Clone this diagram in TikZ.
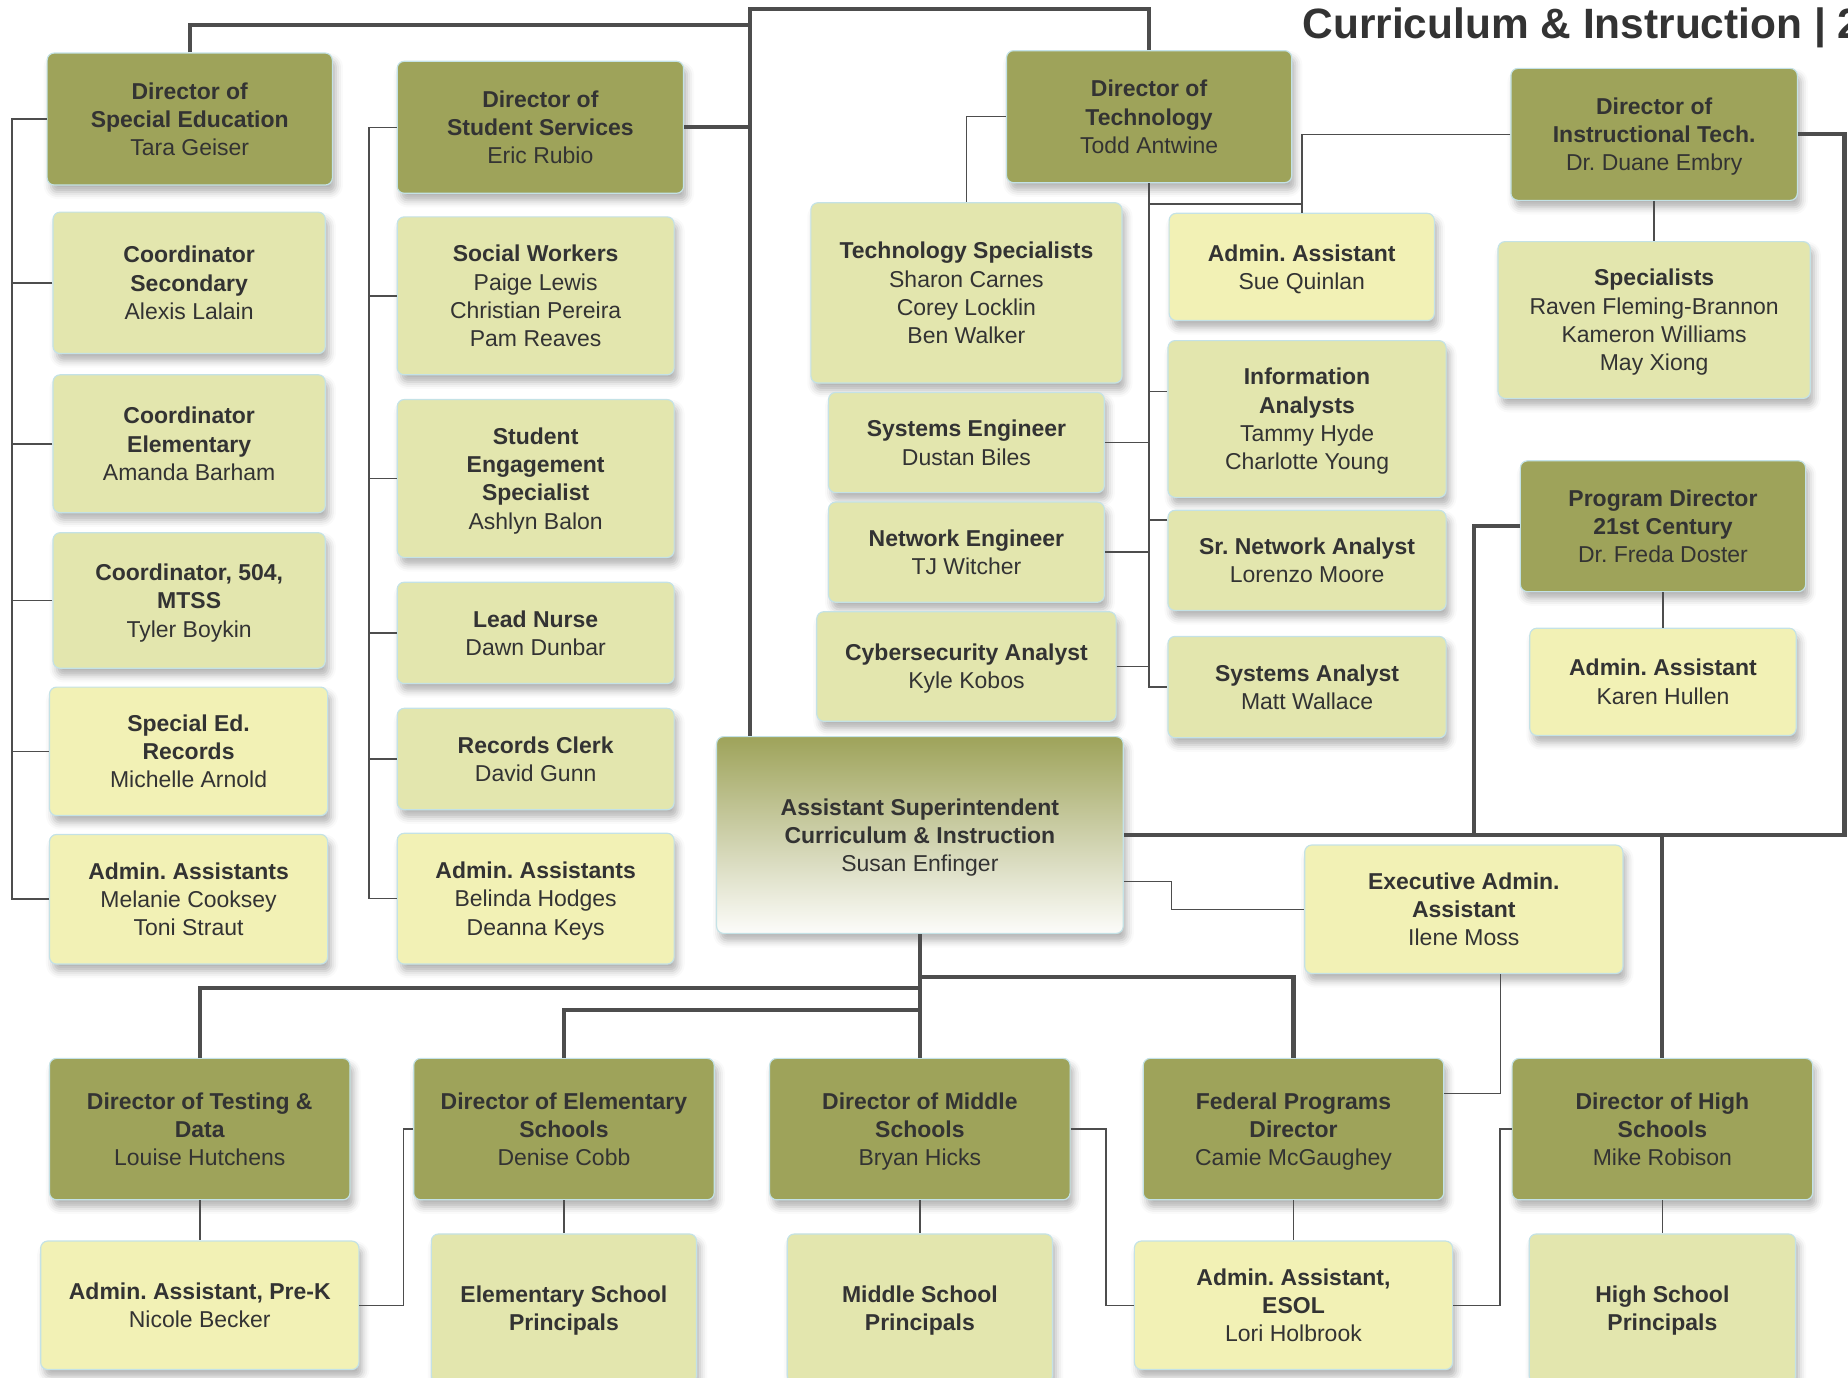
\documentclass[tikz,border=0pt]{standalone}
\usepackage{fontspec}
\setmainfont{Liberation Sans}
\frenchspacing
\usetikzlibrary{shadows.blur}
\definecolor{olivedark}{RGB}{158,163,90}
\definecolor{olivelight}{RGB}{227,230,174}
\definecolor{paleyellow}{RGB}{242,241,181}
\definecolor{boxedge}{RGB}{196,226,230}
\definecolor{wire}{RGB}{77,77,77}
\definecolor{ink}{RGB}{51,51,51}
\tikzset{
  box/.style={rounded corners=6pt, draw=boxedge, line width=1pt, align=center, text=ink, inner sep=0pt,
    font=\fontsize{19.5}{24}\selectfont, text depth=0pt,
    blur shadow={shadow xshift=3pt, shadow yshift=-6pt, shadow blur radius=6pt, shadow opacity=30}},
  dirbox/.style={box, fill=olivedark},
  staffbox/.style={box, fill=olivelight},
  asstbox/.style={box, fill=paleyellow},
  sz/.style 2 args={minimum width=#1pt, minimum height=#2pt},
  trunk/.style={draw=wire, line width=3.5pt},
  link/.style={draw=wire, line width=1.3pt},
}
\begin{document}
\begin{tikzpicture}[x=1pt,y=-1pt]
\useasboundingbox (0,0) rectangle (1568,1169);
\clip (0,0) rectangle (1568,1169);
\node[anchor=west, inner sep=0pt, text=ink, font=\fontsize{36}{40}\selectfont\bfseries] (title) at (1105,24) {Curriculum \& Instruction | 2};

\node[dirbox, sz={242}{112}] (sped) at (161,101) {\textbf{Director of}\\\textbf{Special Education}\\Tara Geiser};
\node[staffbox, sz={231}{120}] (cosec) at (160.5,240) {\textbf{Coordinator}\\\textbf{Secondary}\\Alexis Lalain};
\node[staffbox, sz={231}{117}] (coelem) at (160.5,376.5) {\textbf{Coordinator}\\\textbf{Elementary}\\Amanda Barham};
\node[staffbox, sz={231}{115}] (co504) at (160.5,509.5) {\textbf{Coordinator, 504,}\\\textbf{MTSS}\\Tyler Boykin};
\node[asstbox, sz={236}{109}] (sprec) at (160,637.5) {\textbf{Special Ed.}\\\textbf{Records}\\Michelle Arnold};
\node[asstbox, sz={236}{110}] (aa1) at (160,763) {\textbf{Admin. Assistants}\\Melanie Cooksey\\Toni Straut};

\node[dirbox, sz={243}{112}] (stus) at (458.5,108) {\textbf{Director of}\\\textbf{Student Services}\\Eric Rubio};
\node[staffbox, sz={235}{134}] (socw) at (454.5,251) {\textbf{Social Workers}\\Paige Lewis\\Christian Pereira\\Pam Reaves};
\node[staffbox, sz={235}{134}] (seng) at (454.5,406) {\textbf{Student}\\\textbf{Engagement}\\\textbf{Specialist}\\Ashlyn Balon};
\node[staffbox, sz={235}{86}] (nurse) at (454.5,537) {\textbf{Lead Nurse}\\Dawn Dunbar};
\node[staffbox, sz={235}{86}] (clerk) at (454.5,644) {\textbf{Records Clerk}\\David Gunn};
\node[asstbox, sz={235}{111}] (aa2) at (454.5,762.5) {\textbf{Admin. Assistants}\\Belinda Hodges\\Deanna Keys};

\node[dirbox, sz={242}{112}] (tech) at (975,99) {\textbf{Director of}\\\textbf{Technology}\\Todd Antwine};
\node[staffbox, sz={264}{153}] (tspec) at (820,248.5) {\textbf{Technology Specialists}\\Sharon Carnes\\Corey Locklin\\Ben Walker};
\node[staffbox, sz={234}{85}] (syseng) at (820,375.5) {\textbf{Systems Engineer}\\Dustan Biles};
\node[staffbox, sz={234}{85}] (neteng) at (820,468.5) {\textbf{Network Engineer}\\TJ Witcher};
\node[staffbox, sz={254}{93}] (cyber) at (820,565.5) {\textbf{Cybersecurity Analyst}\\Kyle Kobos};
\node[asstbox, sz={225}{91}] (aa3) at (1104.5,226.5) {\textbf{Admin. Assistant}\\Sue Quinlan};
\node[staffbox, sz={236}{133}] (info) at (1109,355.5) {\textbf{Information}\\\textbf{Analysts}\\Tammy Hyde\\Charlotte Young};
\node[staffbox, sz={236}{85}] (srnet) at (1109,475.5) {\textbf{Sr. Network Analyst}\\Lorenzo Moore};
\node[staffbox, sz={236}{86}] (sysan) at (1109,583) {\textbf{Systems Analyst}\\Matt Wallace};

\node[dirbox, sz={243}{112}] (itech) at (1403.5,114) {\textbf{Director of}\\\textbf{Instructional Tech.}\\Dr. Duane Embry};
\node[staffbox, sz={265}{133}] (spec) at (1403.5,271.5) {\textbf{Specialists}\\Raven Fleming-Brannon\\Kameron Williams\\May Xiong};
\node[dirbox, sz={242}{111}] (prog) at (1411,446.5) {\textbf{Program Director}\\\textbf{21st Century}\\Dr. Freda Doster};
\node[asstbox, sz={226}{91}] (aa4) at (1411,578.5) {\textbf{Admin. Assistant}\\Karen Hullen};

\node[box, sz={345}{167}, top color=olivedark, bottom color=white!97!olivedark] (sup) at (780.5,708.5) {\textbf{Assistant Superintendent}\\\textbf{Curriculum \& Instruction}\\Susan Enfinger};
\node[asstbox, sz={270}{109}] (exec) at (1242,771.5) {\textbf{Executive Admin.}\\\textbf{Assistant}\\Ilene Moss};

\node[dirbox, sz={255}{120}] (test) at (169.5,958) {\textbf{Director of Testing \&}\\\textbf{Data}\\Louise Hutchens};
\node[dirbox, sz={255}{120}] (elem) at (478.5,958) {\textbf{Director of Elementary}\\\textbf{Schools}\\Denise Cobb};
\node[dirbox, sz={255}{120}] (mid) at (780.5,958) {\textbf{Director of Middle}\\\textbf{Schools}\\Bryan Hicks};
\node[dirbox, sz={255}{120}] (fed) at (1097.5,958) {\textbf{Federal Programs}\\\textbf{Director}\\Camie McGaughey};
\node[dirbox, sz={255}{120}] (high) at (1410.5,958) {\textbf{Director of High}\\\textbf{Schools}\\Mike Robison};

\node[asstbox, sz={270}{109}] (aapk) at (169.5,1107.5) {\textbf{Admin. Assistant, Pre-K}\\Nicole Becker};
\node[staffbox, sz={225}{126}] (elp) at (478.5,1110) {\textbf{Elementary School}\\\textbf{Principals}};
\node[staffbox, sz={225}{126}] (mdp) at (780.5,1110) {\textbf{Middle School}\\\textbf{Principals}};
\node[asstbox, sz={270}{109}] (esol) at (1097.5,1107.5) {\textbf{Admin. Assistant,}\\\textbf{ESOL}\\Lori Holbrook};
\node[staffbox, sz={226}{126}] (hsp) at (1410.5,1110) {\textbf{High School}\\\textbf{Principals}};

\coordinate (jtop) at (636,8);
\coordinate (jsped) at (636,21);
\coordinate (jright) at (1565,708.5);
\coordinate (jprog) at (1251,708.5);
\coordinate (jtest) at (780.5,838);
\coordinate (jfed) at (780.5,829);
\coordinate (jelem) at (780.5,857);
\coordinate (jexec) at (994,748);
\coordinate (jaa) at (1104.5,173);
\coordinate (lb) at (10,0);
\coordinate (mb) at (313,0);

\draw[trunk] (tech.north) |- (jtop) -- (jtop |- sup.north);
\draw[trunk] (sped.north) |- (jsped);
\draw[trunk] (stus.east) -- (stus.east -| jtop);
\draw[trunk] (itech.east) -| (jright) -- (sup.east);
\draw[trunk] (prog.west) -| (jprog);
\draw[trunk] (high.north) -- (high.north |- sup.east);
\draw[trunk] (sup.south) -- (mid.north);
\draw[trunk] (test.north) |- (jtest);
\draw[trunk] (fed.north) |- (jfed);
\draw[trunk] (elem.north) |- (jelem);

\draw[link] (sped.west) -| (lb |- aa1.west) -- (aa1.west);
\foreach \n in {cosec,coelem,co504,sprec} \draw[link] (\n.west) -- (\n.west -| lb);
\draw[link] (stus.west) -| (mb |- aa2.west) -- (aa2.west);
\foreach \n in {socw,seng,nurse,clerk} \draw[link] (\n.west) -- (\n.west -| mb);

\draw[link] (tech.west) -| (tspec.north);
\draw[link] (tech.south) |- (sysan.west);
\foreach \n in {syseng,neteng,cyber} \draw[link] (\n.east) -- (\n.east -| tech.south);
\draw[link] ([yshift=23.5pt]info.west) -- ([yshift=23.5pt]info.west -| tech.south);
\draw[link] ([yshift=34.5pt]srnet.west) -- ([yshift=34.5pt]srnet.west -| tech.south);
\draw[link] (jaa -| tech.south) -- (jaa);
\draw[link] (itech.west) -| (aa3.north);
\draw[link] (itech.south) -- (spec.north);
\draw[link] (prog.south) -- (aa4.north);

\draw[link] ([yshift=-39.5pt]sup.east) -- (jexec) |- (exec.west);
\draw[link] ([xshift=31pt]exec.south) |- ([yshift=30pt]fed.east);
\draw[link] (test.south) -- (aapk.north);
\draw[link] (elem.south) -- (elp.north);
\draw[link] (mid.south) -- (mdp.north);
\draw[link] (fed.south) -- (esol.north);
\draw[link] (high.south) -- (hsp.north);
\draw[link] (elem.west) -- ++(-8,0) |- (aapk.east);
\draw[link] (mid.east) -- ++(30,0) |- (esol.west);
\draw[link] (high.west) -- ++(-10,0) |- (esol.east);
\end{tikzpicture}
\end{document}
